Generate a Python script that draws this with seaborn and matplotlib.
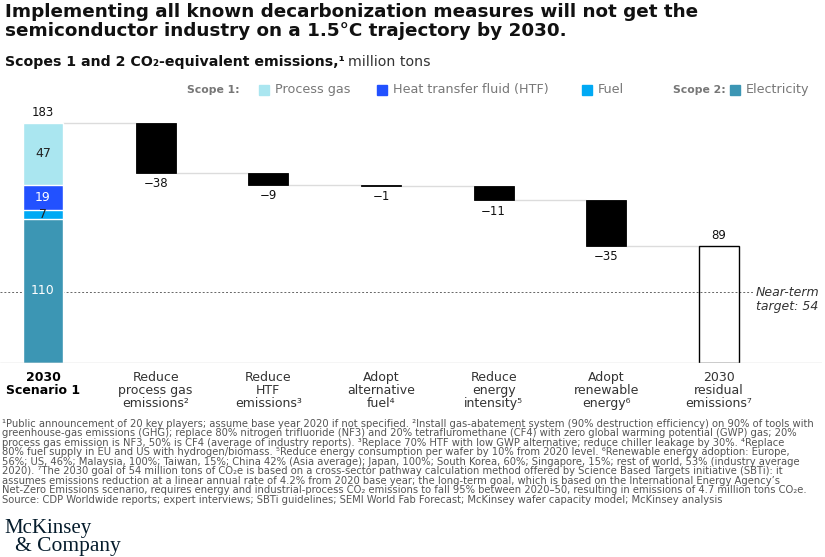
import matplotlib
matplotlib.use("Agg")
import matplotlib.pyplot as plt
import matplotlib.patches as mpatches
import numpy as np
import seaborn as sns

# ---- data ----
segments = ["Electricity", "Fuel", "Heat transfer fluid (HTF)", "Process gas"]
segment_values = [110, 7, 19, 47]
segment_colors = ["#3c96b4", "#00a9f4", "#2251ff", "#aae6f0"]
segment_text_colors = ["white", "#222222", "white", "#222222"]

start_label = "2030\nScenario 1"
step_labels = ["Reduce\nprocess gas\nemissions²", "Reduce\nHTF\nemissions³",
               "Adopt\nalternative\nfuel⁴", "Reduce\nenergy\nintensity⁵",
               "Adopt\nrenewable\nenergy⁶"]
step_values = [-38, -9, -1, -11, -35]
end_label = "2030\nresidual\nemissions⁷"
end_value = 89
target_value = 54

footnotes = [
    "¹Public announcement of 20 key players; assume base year 2020 if not specified. ²Install gas-abatement system (90% destruction efficiency) on 90% of tools with",
    "greenhouse-gas emissions (GHG); replace 80% nitrogen trifluoride (NF3) and 20% tetrafluromethane (CF4) with zero global warming potential (GWP) gas; 20%",
    "process gas emission is NF3, 50% is CF4 (average of industry reports). ³Replace 70% HTF with low GWP alternative; reduce chiller leakage by 30%. ⁴Replace",
    "80% fuel supply in EU and US with hydrogen/biomass. ⁵Reduce energy consumption per wafer by 10% from 2020 level. ⁶Renewable energy adoption: Europe,",
    "56%; US, 46%; Malaysia, 100%; Taiwan, 15%; China 42% (Asia average); Japan, 100%; South Korea, 60%; Singapore, 15%; rest of world, 53% (industry average",
    "2020). ⁷The 2030 goal of 54 million tons of CO₂e is based on a cross-sector pathway calculation method offered by Science Based Targets initiative (SBTi): it",
    "assumes emissions reduction at a linear annual rate of 4.2% from 2020 base year; the long-term goal, which is based on the International Energy Agency’s",
    "Net-Zero Emissions scenario, requires energy and industrial-process CO₂ emissions to fall 95% between 2020–50, resulting in emissions of 4.7 million tons CO₂e.",
    "Source: CDP Worldwide reports; expert interviews; SBTi guidelines; SEMI World Fab Forecast; McKinsey wafer capacity model; McKinsey analysis",
]

sns.set_theme(style="white")
plt.rcParams["font.family"] = ["DejaVu Sans"]

W, H = 825, 557
fig = plt.figure(figsize=(W / 100, H / 100), dpi=100)


def fx(x):
    return x / W


def fy(y):
    return 1 - y / H


# axes placed so that 0 sits at y=363px and 183 at y=123px
base_px, px_per_unit = 363, 240 / 183
ymax = 200
ax = fig.add_axes([0, fy(base_px), 822 / W, ymax * px_per_unit / H])

bar_w = 0.355
pos = np.arange(len(step_values) + 2)
start_total = sum(segment_values)
totals = [start_total] + list(start_total + np.cumsum(step_values))

# stacked first bar (tallest first, then overlay the lower segments)
cum = np.cumsum(segment_values)
for i in range(len(segments) - 1, -1, -1):
    sns.barplot(x=[pos[0]], y=[cum[i]], native_scale=True, color=segment_colors[i],
                width=bar_w, saturation=1, edgecolor="white", linewidth=1,
                errorbar=None, ax=ax, zorder=3)
    mid = cum[i] - segment_values[i] / 2
    ax.text(pos[0], mid, str(segment_values[i]), ha="center", va="center",
            fontsize=9, color=segment_text_colors[i], zorder=5)

# floating reduction bars
sns.barplot(x=pos[1:-1], y=[-v for v in step_values], bottom=totals[1:],
            native_scale=True, color="black", width=bar_w, saturation=1,
            edgecolor="black", linewidth=0.6, errorbar=None, ax=ax, zorder=3)

# residual bar
sns.barplot(x=[pos[-1]], y=[end_value], native_scale=True, color="black",
            fill=False, linewidth=1, width=bar_w, errorbar=None, ax=ax, zorder=3)

# connectors
for i in range(len(totals)):
    ax.hlines(totals[i], pos[i] + bar_w / 2, pos[i + 1] - bar_w / 2,
              colors="#dcdcdc", lw=1, zorder=2)

# value labels
ax.annotate(str(start_total), (pos[0], start_total), xytext=(0, 3),
            textcoords="offset points", ha="center", va="bottom", fontsize=8.5, color="#111111")
for i, v in enumerate(step_values):
    ax.annotate(f"−{abs(v)}", (pos[i + 1], totals[i + 1]), xytext=(0, -3),
                textcoords="offset points", ha="center", va="top", fontsize=8.5, color="#111111")
ax.annotate(str(end_value), (pos[-1], end_value), xytext=(0, 3),
            textcoords="offset points", ha="center", va="bottom", fontsize=8.5, color="#111111")

xlim = (-43 / 112.67, (822 - 43) / 112.67)
ax.set_xlim(*xlim)
ax.set_ylim(0, ymax)

# target line
ax.hlines(target_value, xlim[0], (753 - 43) / 112.67, colors="#666666",
          linestyles=(0, (2, 2)), lw=0.7, zorder=1)
ax.text((756 - 43) / 112.67, target_value + 4.8, "Near-term\ntarget: 54", ha="left", va="top",
        fontsize=9, style="italic", color="#333333", linespacing=1.1)

ax.axhline(0, color="#cccccc", lw=1, zorder=4)
sns.despine(ax=ax, left=True, bottom=True)
ax.set_yticks([])
ax.set_xticks(pos, [start_label] + step_labels + [end_label])
ax.tick_params(axis="x", length=0, pad=6, labelsize=9, labelcolor="#333333")
for lab in ax.get_xticklabels():
    lab.set_linespacing(1.0)
ax.get_xticklabels()[0].set_fontweight("bold")
ax.get_xticklabels()[0].set_color("black")
ax.set_xlabel("")
ax.set_ylabel("")

# ---- titles ----
fig.text(fx(5), fy(3), "Implementing all known decarbonization measures will not get the\n"
         "semiconductor industry on a 1.5°C trajectory by 2030.",
         ha="left", va="top", fontsize=13.2, fontweight="bold", color="#111111", linespacing=1.1)

r = fig.canvas.get_renderer()
t1 = fig.text(fx(5), fy(62), "Scopes 1 and 2 CO₂-equivalent emissions,¹", ha="left", va="center",
              fontsize=10.2, fontweight="bold", color="#111111")
bb = t1.get_window_extent(r)
fig.text(bb.x1 / W + fx(3), fy(62), "million tons", ha="left", va="center", fontsize=10.2, color="#333333")

# ---- legend ----
ly = 90
fig.text(fx(187), fy(ly), "Scope 1:", ha="left", va="center", fontsize=7.8,
         fontweight="bold", color="#777777")
fig.text(fx(673), fy(ly), "Scope 2:", ha="left", va="center", fontsize=7.8,
         fontweight="bold", color="#777777")
legend_items = [("Process gas", segment_colors[3], 259),
                ("Heat transfer fluid (HTF)", segment_colors[2], 377),
                ("Fuel", segment_colors[1], 582),
                ("Electricity", segment_colors[0], 730)]
for name, col, x0 in legend_items:
    fig.patches.append(mpatches.Rectangle((fx(x0), fy(ly + 5)), 10 / W, 10 / H,
                                          transform=fig.transFigure, color=col))
    fig.text(fx(x0 + 16), fy(ly), name, ha="left", va="center", fontsize=9.2, color="#777777")

# ---- footnotes ----
fig.text(fx(2), fy(419), "\n".join(footnotes), ha="left", va="top", fontsize=7.2,
         color="#555555", linespacing=0.93)

# ---- logo ----
fig.text(fx(4), fy(529), "McKinsey", ha="left", va="center", fontsize=15,
         family="Liberation Serif", color="#051c2c")
fig.text(fx(15), fy(546), "& Company", ha="left", va="center", fontsize=15.5,
         family="Liberation Serif", color="#051c2c")

fig.savefig("out.png", dpi=100)
